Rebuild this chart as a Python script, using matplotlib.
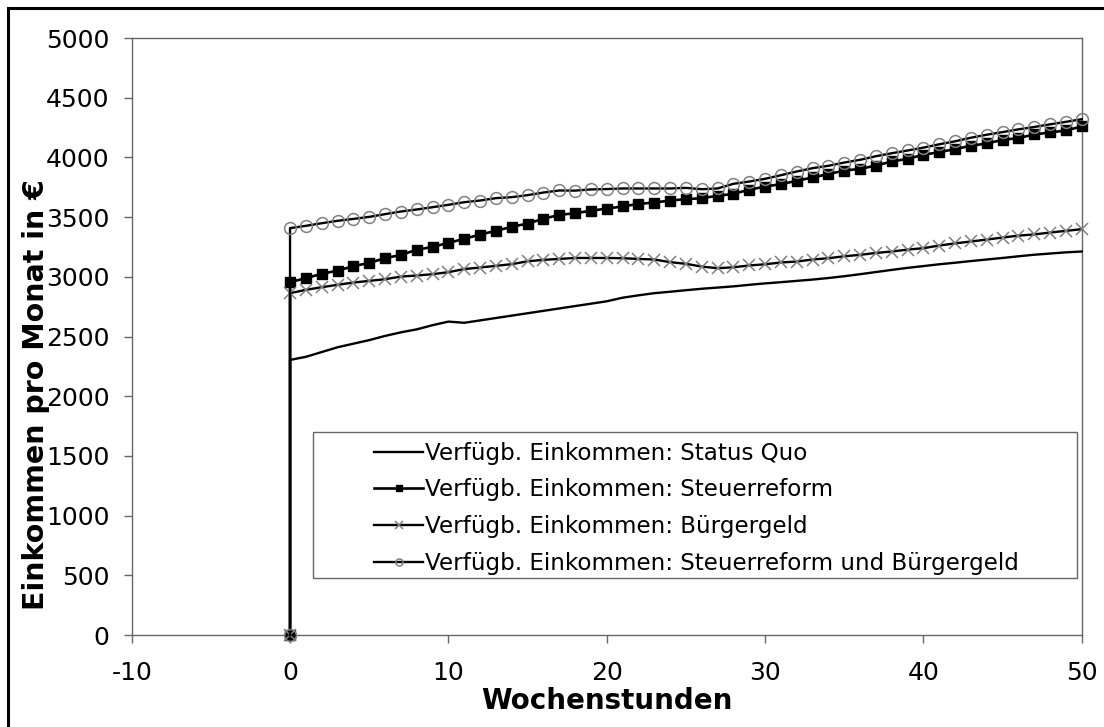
import matplotlib
matplotlib.use("Agg")
import matplotlib.pyplot as plt
from matplotlib.lines import Line2D
from matplotlib.patches import Rectangle

plt.rcParams["axes.unicode_minus"] = False

# --- Daten ---
HOURS = [0] + list(range(0, 51))  # erster Punkt (0, 0), dann 0..50 Wochenstunden

STATUS_QUO = [0,
    2304, 2330, 2370, 2410, 2440, 2470, 2505, 2535, 2560, 2595,
    2625, 2615, 2635, 2655, 2675, 2695, 2715, 2735, 2755, 2775,
    2795, 2825, 2845, 2863, 2875, 2888, 2900, 2910, 2920, 2933,
    2945, 2955, 2966, 2977, 2990, 3005, 3022, 3040, 3058, 3075,
    3090, 3105, 3118, 3132, 3145, 3158, 3172, 3185, 3195, 3205,
    3212]

STEUERREFORM = [0,
    2955, 2989, 3025, 3052, 3089, 3117, 3156, 3184, 3226, 3251,
    3284, 3318, 3354, 3385, 3419, 3446, 3486, 3519, 3533, 3553,
    3572, 3589, 3611, 3622, 3639, 3650, 3659, 3678, 3695, 3729,
    3756, 3776, 3804, 3832, 3860, 3890, 3904, 3932, 3966, 3988,
    4022, 4044, 4070, 4097, 4117, 4147, 4162, 4192, 4209, 4226,
    4259]

BUERGERGELD = [0,
    2863, 2891, 2913, 2933, 2952, 2966, 2980, 3002, 3011, 3022,
    3039, 3065, 3078, 3092, 3106, 3130, 3142, 3150, 3158, 3158,
    3158, 3156, 3150, 3145, 3123, 3109, 3086, 3072, 3080, 3095,
    3105, 3120, 3128, 3145, 3156, 3172, 3184, 3200, 3212, 3228,
    3240, 3262, 3280, 3296, 3312, 3329, 3345, 3355, 3371, 3385,
    3399]

BEIDES = [0,
    3408, 3427, 3449, 3469, 3485, 3502, 3525, 3547, 3564, 3583,
    3603, 3625, 3639, 3659, 3667, 3684, 3706, 3723, 3722, 3732,
    3735, 3740, 3740, 3740, 3740, 3745, 3734, 3740, 3779, 3798,
    3821, 3851, 3882, 3910, 3930, 3957, 3980, 4010, 4035, 4058,
    4082, 4110, 4135, 4165, 4190, 4212, 4235, 4255, 4277, 4298,
    4320]

LABELS = [
    "Verfügb. Einkommen: Status Quo",
    "Verfügb. Einkommen: Steuerreform",
    "Verfügb. Einkommen: Bürgergeld",
    "Verfügb. Einkommen: Steuerreform und Bürgergeld",
]

X_TICKS = list(range(-10, 51, 10))
Y_TICKS = list(range(0, 5001, 500))

GRAY = "#666666"

fig = plt.figure(figsize=(11.04, 7.27), dpi=100)
ax = fig.add_axes([0.1193, 0.1265, 0.8605, 0.8212])

ax.plot(HOURS, STATUS_QUO, color="black", lw=1.7, label=LABELS[0],
        clip_on=False, zorder=3)
ax.plot(HOURS, STEUERREFORM, color="black", lw=1.9, marker="s", ms=6.5,
        mfc="black", mec="black", label=LABELS[1], clip_on=False, zorder=3)
ax.plot(HOURS, BUERGERGELD, color="black", lw=1.7, marker="x", ms=8.5,
        mec="#808080", mew=1.1, label=LABELS[2], clip_on=False, zorder=3)
ax.plot(HOURS, BEIDES, color="black", lw=1.7, marker="o", ms=8.5,
        mfc="none", mec="#808080", mew=1.1, label=LABELS[3], clip_on=False,
        zorder=3)

ax.set_xlim(-10, 50)
ax.set_ylim(0, 5000)
ax.set_xticks(X_TICKS)
ax.set_yticks(Y_TICKS)

for s in ax.spines.values():
    s.set_color(GRAY)
    s.set_linewidth(1.0)
ax.tick_params(axis="both", direction="out", length=6, width=1.0,
               color=GRAY, labelsize=18, pad=10)
ax.tick_params(axis="x", pad=13)

ax.set_xlabel("Wochenstunden", fontsize=20, fontweight="bold")
ax.set_ylabel("Einkommen pro Monat in €", fontsize=20.5, fontweight="bold")
ax.xaxis.set_label_coords(0.5, -0.087)
ax.yaxis.set_label_coords(-0.086, 0.402)

# Legende ohne Rahmen, Rahmen separat gezeichnet
leg = ax.legend(loc="upper left", bbox_to_anchor=(0.2555, 0.324),
                frameon=False, fontsize=16.6, handlelength=2.1,
                handletextpad=0.1, labelspacing=0.6, borderpad=0,
                borderaxespad=0, markerscale=0.6)
ax.add_patch(Rectangle((0.1908, 0.096), 0.8045, 0.244, transform=ax.transAxes,
                       fill=True, fc="white", ec=GRAY, lw=1.0, zorder=4))
leg.set_zorder(5)

# Rahmen links und oben
fig.add_artist(Line2D([0.0075, 0.0075], [0, 0.989], transform=fig.transFigure,
                      color="black", lw=2.2))
fig.add_artist(Line2D([0.0075, 1.0], [0.989, 0.989], transform=fig.transFigure,
                      color="black", lw=2.2))

fig.savefig("out.png", dpi=100)
